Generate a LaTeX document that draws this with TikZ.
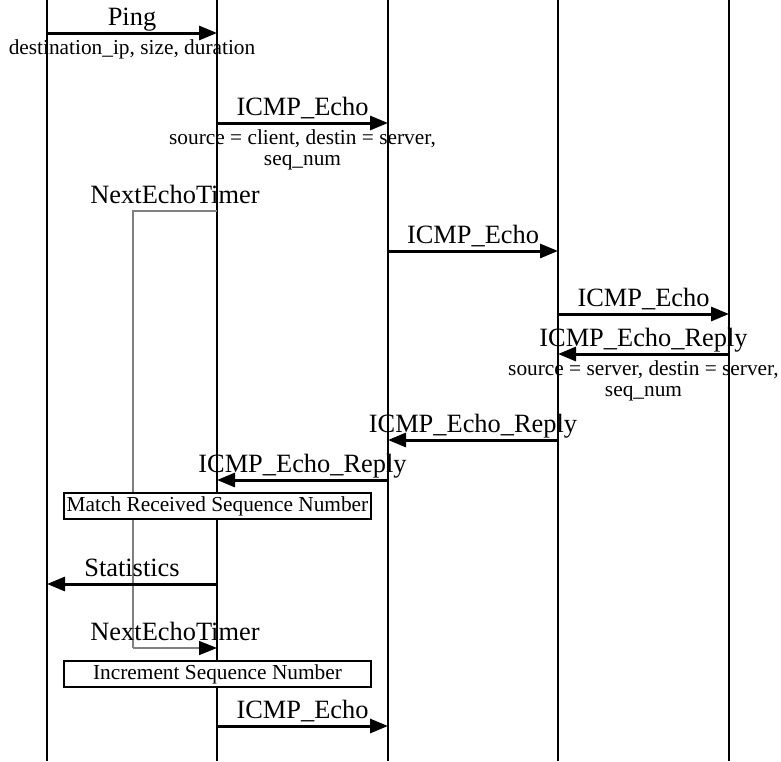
\documentclass[tikz,border=0pt]{standalone}
\usepackage{fontspec}
\setmainfont{Liberation Serif}
\usetikzlibrary{arrows.meta}

\newcommand{\msgfont}{\fontsize{19.8}{22}\selectfont}
\newcommand{\notefont}{\fontsize{16}{15.8}\selectfont}

\begin{document}
\begin{tikzpicture}[x=0.75pt, y=-0.75pt,
    lifeline/.style={draw=black, line width=0.8pt},
    msg/.style={line width=2.25pt, -{Triangle[length=13.5pt, width=10.5pt]}},
    timer/.style={draw=black!50, line width=1.1pt},
    lbl/.style={font=\msgfont, anchor=base, inner sep=0pt, yshift=5.6pt},
    sub/.style={font=\notefont, align=center, anchor=north, inner sep=0pt, yshift=-4.2pt},
    procbox/.style={draw, fill=white, line width=1.5pt, minimum width=230.25pt,
                    minimum height=19.5pt, inner sep=0pt, font=\notefont}]

  \useasboundingbox (0,0) rectangle (781,761);

  % lifelines
  \foreach \n/\x in {client/47, ping/217, net/388, relay/558, server/729} {
    \coordinate (\n) at (\x,0);
    \coordinate (\n end) at (\x,761);
    \draw[lifeline] (\n) -- (\n end);
  }

  % timer loop
  \coordinate (tmr top) at (133,211);
  \coordinate (tmr bot) at (133,648);
  \draw[timer] (ping |- tmr top) -- node[lbl] (tmr set) {NextEchoTimer} (tmr top) -- (tmr bot);
  \draw[timer, -{Triangle[length=13.5pt, width=10.5pt, color=black, fill=black]}]
    (tmr bot) -- node[lbl] (tmr fire) {NextEchoTimer} (ping |- tmr bot);

  % messages with parameters
  \draw[msg] (client |- 0,33) -- node[lbl] (ping msg) {Ping}
    node[sub] (ping par) {destination\_ip, size, duration} (ping |- 0,33);
  \draw[msg] (ping |- 0,123) -- node[lbl] (echo msg) {ICMP\_Echo}
    node[sub] (echo par) {source = client, destin = server,\\ seq\_num} (net |- 0,123);
  \draw[msg] (server |- 0,354) -- node[lbl] (reply msg) {ICMP\_Echo\_Reply}
    node[sub] (reply par) {source = server, destin = server,\\ seq\_num} (relay |- 0,354);

  % plain messages
  \foreach \from/\to/\y/\lab in {net/relay/251/{ICMP\_Echo}, relay/server/314/{ICMP\_Echo},
      relay/net/440/{ICMP\_Echo\_Reply}, net/ping/480/{ICMP\_Echo\_Reply},
      ping/client/584/{Statistics}, ping/net/726/{ICMP\_Echo}}
    \draw[msg] (\from |- 0,\y) -- node[lbl] (lab\y) {\lab} (\to |- 0,\y);

  % actions
  \node[procbox] (match) at (217.5,506) {Match Received Sequence Number};
  \node[procbox] (incr) at (217.5,674) {Increment Sequence Number};
\end{tikzpicture}
\end{document}
